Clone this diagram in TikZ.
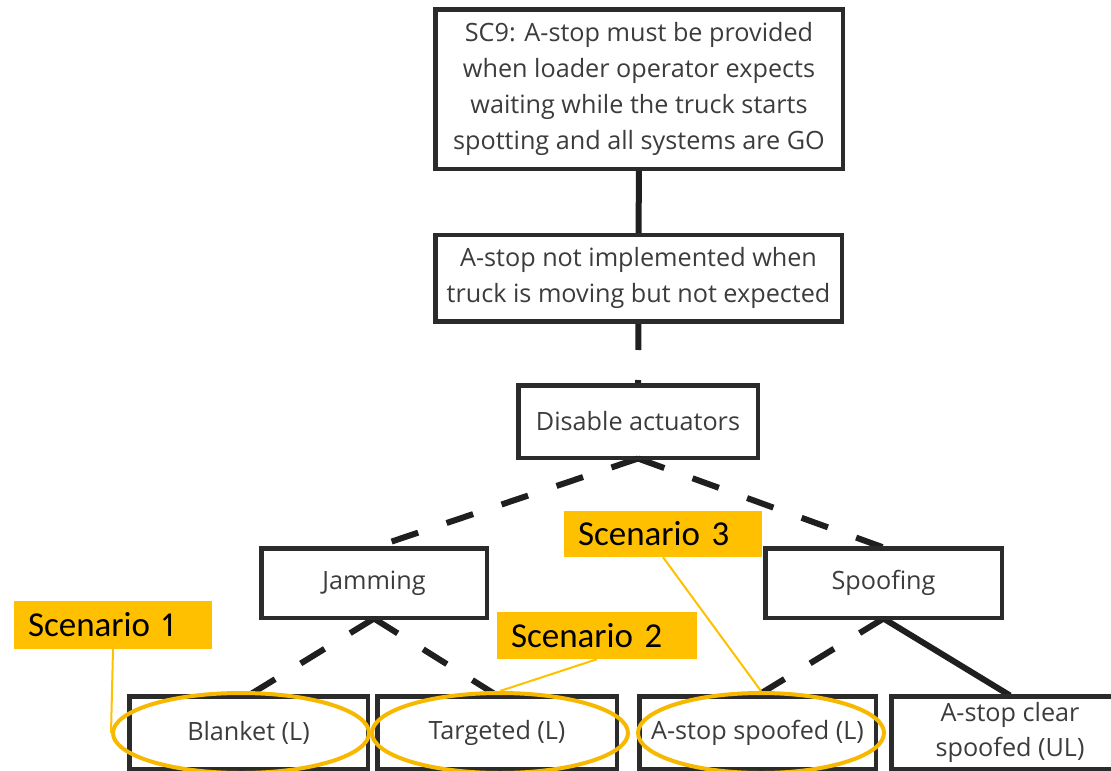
\documentclass[tikz,border=0pt]{standalone}
\usepackage{fontspec}
\setmainfont{Open Sans}
\newfontfamily\labelfont[Numbers=Proportional]{Carlito}
\usetikzlibrary{shapes.geometric}
\definecolor{boxline}{HTML}{2B2B2B}
\definecolor{boxtext}{HTML}{3C3C3C}
\definecolor{scen}{HTML}{FFC000}
\definecolor{ring}{HTML}{F7B900}
\begin{document}
\begin{tikzpicture}[x=1pt,y=-1pt,
  box/.style={draw=boxline,line width=3pt,fill=white,rectangle,inner sep=0pt,
    align=center,text=boxtext,font=\fontsize{25.2}{35.7}\selectfont},
  link/.style={line width=6pt,draw=black!88},
  dlink/.style={link,dash pattern=on 28pt off 30pt},
  ring/.style={draw=ring,line width=4pt,ellipse,inner sep=0pt},
  tag/.style={fill=scen,rectangle,inner xsep=14pt,inner ysep=0pt,align=left,
    text=black,font=\labelfont\fontsize{35}{38}\selectfont},
  tagline/.style={draw=scen,line width=2pt}]
\useasboundingbox (0,0) rectangle (1111,771);
\clip (0,0) rectangle (1111,771);

% tree nodes
\node[box,minimum width=406pt,minimum height=158pt] (sc9) at (639,89)
  {SC9: A-stop must be provided\\when loader operator expects\\waiting while the truck starts\\spotting and all systems are GO};
\node[box,minimum width=405pt,minimum height=85pt] (notimpl) at (638.5,278)
  {A-stop not implemented when\\truck is moving but not expected};
\node[box,minimum width=238pt,minimum height=71pt] (disable) at (638,421.5) {Disable actuators};
\node[box,minimum width=224pt,minimum height=68pt] (jam) at (374,583) {Jamming};
\node[box,minimum width=235pt,minimum height=68pt] (spoof) at (883.5,583) {Spoofing};
\node[box,minimum width=237pt,minimum height=71pt] (blanket) at (248.5,732.5) {Blanket (L)};
\node[box,minimum width=238pt,minimum height=71pt] (targeted) at (497,732.5) {Targeted (L)};
\node[box,minimum width=235pt,minimum height=71pt] (astops) at (757.5,732.5) {A-stop spoofed (L)};
\node[box,minimum width=236pt,minimum height=71pt] (astopc) at (1010,732.5) {A-stop clear\\spoofed (UL)};

% connectors
\draw[link] (sc9.south) -- (notimpl.north);
\draw[dlink] (notimpl.south) -- (disable.north);
\draw[dlink] (disable.south) -- (jam.north);
\draw[dlink] (disable.south) -- (spoof.north);
\draw[dlink] (jam.south) -- (blanket.north);
\draw[dlink] (jam.south) -- (targeted.north);
\draw[dlink] (spoof.south) -- (astops.north);
\draw[link] (spoof.south) -- (astopc.north);

% redraw box borders over connector ends
\foreach \n in {sc9,notimpl,disable,jam,spoof,blanket,targeted,astops,astopc}
  \draw[draw=boxline,line width=3pt] (\n.south west) rectangle (\n.north east);

% highlight rings
\node[ring,minimum width=256pt,minimum height=80pt] (r1) at (241,733) {};
\node[ring,minimum width=256pt,minimum height=80pt] (r2) at (500,733) {};
\node[ring,minimum width=246pt,minimum height=80pt] (r3) at (761,733) {};

% scenario labels
\node[tag,text width=170pt,minimum height=48pt] (s1) at (113,625) {Scenario 1};
\node[tag,text width=172pt,minimum height=47pt] (s2) at (597,635.5) {Scenario 2};
\node[tag,text width=170pt,minimum height=46pt] (s3) at (663,534) {Scenario 3};
\draw[tagline] (s1.south) -- (r1.west);
\draw[tagline] (s2.south) -- (r2.north);
\draw[tagline] (s3.south) -- (r3.north);
\end{tikzpicture}
\end{document}
